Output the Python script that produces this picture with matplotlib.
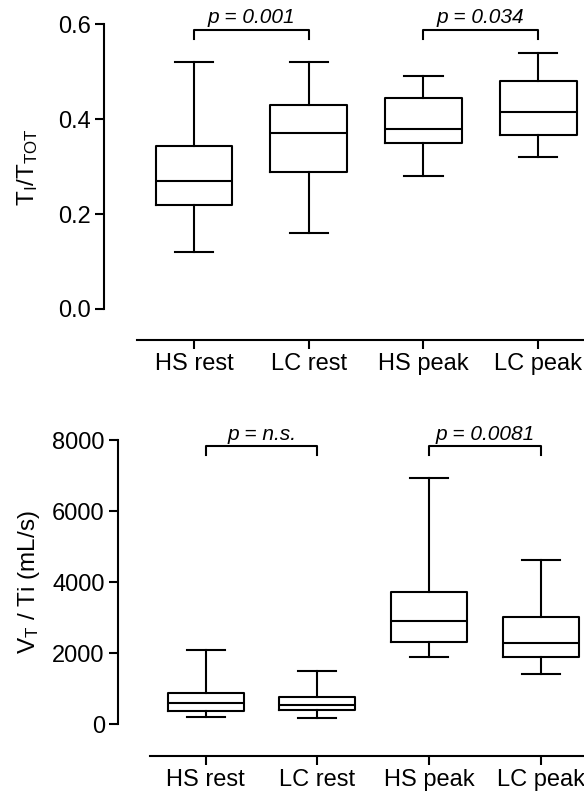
import numpy as np
import matplotlib
matplotlib.use("Agg")
import matplotlib.pyplot as plt

plt.rcParams["font.family"] = ["Liberation Sans", "DejaVu Sans"]
plt.rcParams["mathtext.default"] = "regular"

groups = ["HS rest", "LC rest", "HS peak", "LC peak"]

# TI/TTOT: whisker low, Q1, median, Q3, whisker high
ti_low = [0.12, 0.16, 0.28, 0.32]
ti_q1 = [0.22, 0.288, 0.35, 0.367]
ti_med = [0.27, 0.37, 0.38, 0.415]
ti_q3 = [0.343, 0.429, 0.445, 0.48]
ti_high = [0.52, 0.52, 0.49, 0.54]
ti_ticks = [0.0, 0.2, 0.4, 0.6]
ti_pairs = [(0, 1, "p = 0.001"), (2, 3, "p = 0.034")]

# VT/Ti (mL/s)
vt_low = [197, 188, 1887, 1426]
vt_q1 = [383, 403, 2310, 1905]
vt_med = [609, 535, 2901, 2300]
vt_q3 = [873, 769, 3727, 3014]
vt_high = [2093, 1493, 6938, 4637]
vt_ticks = [0, 2000, 4000, 6000, 8000]
vt_pairs = [(0, 1, "p = n.s."), (2, 3, "p = 0.0081")]


def make_stats(low, q1, med, q3, high):
    stats = []
    for i in range(len(groups)):
        stats.append(dict(label=groups[i], whislo=low[i], q1=q1[i], med=med[i],
                          q3=q3[i], whishi=high[i]))
    return stats


def draw_panel(ax, stats, ticks, ylabel, pairs, bracket_y, drop, xlim, width,
               label_x, offset, ticklabels):
    lw = 1.5
    line = dict(color="black", linewidth=lw)
    ax.bxp(stats, positions=range(len(stats)), widths=width, capwidths=width / 2,
           showfliers=False, boxprops=line, medianprops=line,
           whiskerprops=line, capprops=line)
    ax.set_xlim(*xlim)
    ax.set_ylim(ticks[0], ticks[-1])
    ax.set_yticks(ticks)
    ax.set_yticklabels(ticklabels)
    ax.set_xticks(range(len(groups)))
    ax.set_xticklabels(groups)
    for s in ["top", "right"]:
        ax.spines[s].set_visible(False)
    for s in ["left", "bottom"]:
        ax.spines[s].set_linewidth(lw)
    ax.spines["bottom"].set_position(("outward", offset))
    ax.spines["bottom"].set_bounds(-0.5, xlim[1] + 0.2)
    ax.tick_params(axis="y", length=6.5, width=lw, labelsize=17, pad=3.0)
    ax.tick_params(axis="x", length=6.5, width=lw, labelsize=17, pad=3.0)
    ax.set_ylabel(ylabel, fontsize=17.5)
    ax.yaxis.set_label_coords(label_x, 0.5)

    # significance brackets
    for a, b, txt in pairs:
        ax.plot([a, a, b, b], [bracket_y - drop, bracket_y, bracket_y, bracket_y - drop],
                color="black", linewidth=lw, clip_on=False)
        ax.annotate(txt, xy=((a + b) / 2, bracket_y), xytext=(0, 1.5),
                    textcoords="offset points", ha="center", va="bottom",
                    fontsize=15, style="italic")


fig = plt.figure(figsize=(5.84, 7.91), dpi=100)
ax1 = fig.add_axes([0.1781, 0.6094, 0.8219, 0.3599])
ax2 = fig.add_axes([0.2021, 0.0843, 0.7979, 0.3590])

draw_panel(ax1, make_stats(ti_low, ti_q1, ti_med, ti_q3, ti_high), ti_ticks,
           "T$_I$/T$_{TOT}$", ti_pairs, 0.589, 0.019, (-0.785, 3.40), 0.67,
           -0.133, 22.3, ["%.1f" % t for t in ti_ticks])
draw_panel(ax2, make_stats(vt_low, vt_q1, vt_med, vt_q3, vt_high), vt_ticks,
           "V$_T$ / Ti (mL/s)", vt_pairs, 7831, 245, (-0.784, 3.385), 0.68,
           -0.163, 22.8, [str(t) for t in vt_ticks])

fig.savefig("out.png", dpi=100)
